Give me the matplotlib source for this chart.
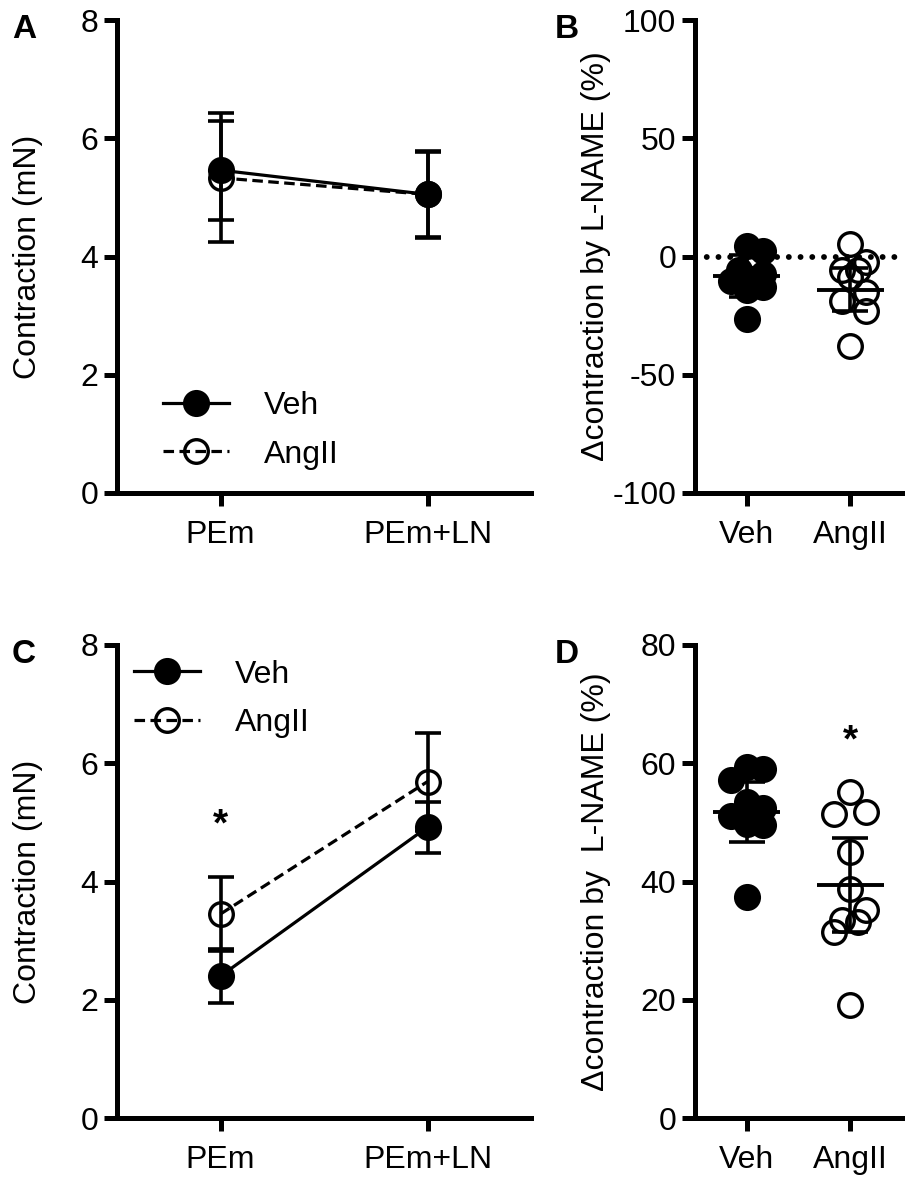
import numpy as np
import matplotlib
matplotlib.use("Agg")
from matplotlib import pyplot as plt

plt.rcParams["font.family"] = ["Liberation Sans", "DejaVu Sans"]
plt.rcParams["axes.unicode_minus"] = False

FONT_SIZE = 23
W_PX, H_PX = 907, 1197

# panels A / C: mean +/- SD contraction (mN)
conditions = ["PEm", "PEm+LN"]
groups = ["Veh", "AngII"]

a_veh_mean = [5.46, 5.05]
a_veh_sd = [0.84, 0.74]
a_ang_mean = [5.33, 5.05]
a_ang_sd = [1.09, 0.72]

c_veh_mean = [2.40, 4.92]
c_veh_sd = [0.45, 0.43]
c_ang_mean = [3.45, 5.69]
c_ang_sd = [0.62, 0.83]

# panels B / D: individual points (%), plus mean and SD
b_veh = [4.4, 2.2, -5.5, -7.6, -9.0, -10.5, -13.0, -14.0, -26.6]
b_ang = [5.1, -2.5, -5.5, -5.5, -8.5, -15.0, -19.0, -23.0, -38.0]
b_mean = [-8.3, -14.0]
b_sd = [9.0, 9.0]

d_veh = [59.4, 59.1, 57.2, 53.5, 52.4, 51.0, 49.8, 49.6, 37.4]
d_ang = [55.2, 51.8, 51.5, 45.0, 38.8, 35.2, 33.5, 33.2, 31.5, 19.1]
d_mean = [51.7, 39.4]
d_sd = [5.1, 8.0]


def px_box(left, top, right, bottom):
    return [left / W_PX, 1 - bottom / H_PX, (right - left) / W_PX, (bottom - top) / H_PX]


def style_axes(ax, ylim, yticks, xticklabels):
    ax.set_xlim(0.5, 2.5)
    ax.set_ylim(*ylim)
    ax.set_yticks(yticks)
    ax.set_xticks([1, 2])
    ax.set_xticklabels(xticklabels)
    for side in ("top", "right"):
        ax.spines[side].set_visible(False)
    for side in ("left", "bottom"):
        ax.spines[side].set_linewidth(3.6)
    ax.tick_params(direction="out", length=9.6, width=3.6, labelsize=FONT_SIZE)
    ax.tick_params(axis="y", pad=4)
    ax.tick_params(axis="x", pad=10)


def swarm_offsets(ax, values, diameter_px=27.0):
    # simple beeswarm: spread overlapping points sideways, at most +/- 0.6 diameter
    fig = ax.figure
    bbox = ax.get_position()
    x0, x1 = ax.get_xlim()
    y0, y1 = ax.get_ylim()
    px_x = bbox.width * fig.get_figwidth() * fig.dpi / (x1 - x0)
    px_y = bbox.height * fig.get_figheight() * fig.dpi / (y1 - y0)
    vals = np.asarray(values, dtype=float)
    cands = np.array([0, 0.3, -0.3, 0.6, -0.6]) * diameter_px
    placed = []
    offsets = np.zeros(len(vals))
    for i in np.argsort(-vals):
        y = vals[i] * px_y
        best, best_d = 0.0, -1.0
        for c in cands:
            dmin = min((np.hypot(c - px, y - py) for px, py in placed), default=np.inf)
            if dmin >= 0.9 * diameter_px:
                best = c
                break
            if dmin > best_d:
                best, best_d = c, dmin
        placed.append((best, y))
        offsets[i] = best / px_x
    return offsets


def line_panel(ax, veh_mean, veh_sd, ang_mean, ang_sd, legend_anchor):
    x = np.arange(1, len(conditions) + 1)
    err_kw = dict(fmt="none", ecolor="black", elinewidth=2.6, capsize=9.6, capthick=2.6)
    ax.errorbar(x, ang_mean, yerr=ang_sd, zorder=2, **err_kw)
    ax.plot(x, ang_mean, color="black", lw=2.3, dashes=(3.3, 1.7), marker="o",
            ms=17, mfc="none", mec="black", mew=2.4, label="AngII", zorder=3)
    ax.errorbar(x, veh_mean, yerr=veh_sd, zorder=4, **err_kw)
    ax.plot(x, veh_mean, color="black", lw=2.3, marker="o", ms=17.5, mfc="black",
            mec="black", mew=2, label="Veh", zorder=5)
    style_axes(ax, (0, 8), [0, 2, 4, 6, 8], conditions)
    ax.set_ylabel("Contraction (mN)", fontsize=FONT_SIZE, va="center")
    ax.yaxis.set_label_coords(-0.215, 0.5)
    handles, labels = ax.get_legend_handles_labels()
    ax.legend(handles[::-1], labels[::-1], loc="upper left", bbox_to_anchor=legend_anchor,
              frameon=False, fontsize=FONT_SIZE, handlelength=2.07, handletextpad=1.1,
              labelspacing=0.585, borderpad=0, borderaxespad=0, numpoints=1)


def scatter_panel(ax, veh, ang, means, sds, ylim, yticks, ylabel):
    style_axes(ax, ylim, yticks, groups)
    for i, (vals, filled) in enumerate([(veh, True), (ang, False)], start=1):
        xs = i + swarm_offsets(ax, vals)
        ax.plot(xs, vals, ls="none", marker="o", ms=17.5 if filled else 17,
                mfc="black" if filled else "none", mec="black",
                mew=2 if filled else 2.4, zorder=3)
    x = np.arange(1, len(groups) + 1)
    ax.errorbar(x, means, yerr=sds, fmt="none", ecolor="black", elinewidth=2.6,
                capsize=13, capthick=2.6, zorder=4)
    ax.hlines(means, x - 0.324, x + 0.324, color="black", lw=2.8, zorder=4)
    ax.set_ylabel(ylabel, fontsize=FONT_SIZE, va="center")
    ax.yaxis.set_label_coords(-0.478, 0.5)


fig = plt.figure(figsize=(W_PX / 100, H_PX / 100), dpi=100)
ax_a = fig.add_axes(px_box(117, 20, 531, 493))
ax_b = fig.add_axes(px_box(695, 20, 902, 493))
ax_c = fig.add_axes(px_box(117, 645, 531, 1118))
ax_d = fig.add_axes(px_box(695, 645, 902, 1118))

line_panel(ax_a, a_veh_mean, a_veh_sd, a_ang_mean, a_ang_sd, (0.111, 0.216))
line_panel(ax_c, c_veh_mean, c_veh_sd, c_ang_mean, c_ang_sd, (0.041, 0.969))
ax_c.text(1, 4.95, "*", ha="center", va="center", fontsize=28, fontweight="bold")

ax_b.axhline(0, color="black", lw=4.2, dashes=(0.01, 2.0), dash_capstyle="round", zorder=1)
scatter_panel(ax_b, b_veh, b_ang, b_mean, b_sd, (-100, 100), [-100, -50, 0, 50, 100],
              "\u0394contraction by L-NAME (%)")
scatter_panel(ax_d, d_veh, d_ang, d_mean, d_sd, (0, 80), [0, 20, 40, 60, 80],
              "\u0394contraction by  L-NAME (%)")
ax_d.text(2, 63.6, "*", ha="center", va="center", fontsize=28, fontweight="bold")

for label, (x, y) in zip("ABCD", [(12, 14), (555, 14), (12, 639), (555, 639)]):
    fig.text(x / W_PX, 1 - y / H_PX, label, ha="left", va="top",
             fontsize=24, fontweight="bold")

fig.savefig("out.png", dpi=100)
